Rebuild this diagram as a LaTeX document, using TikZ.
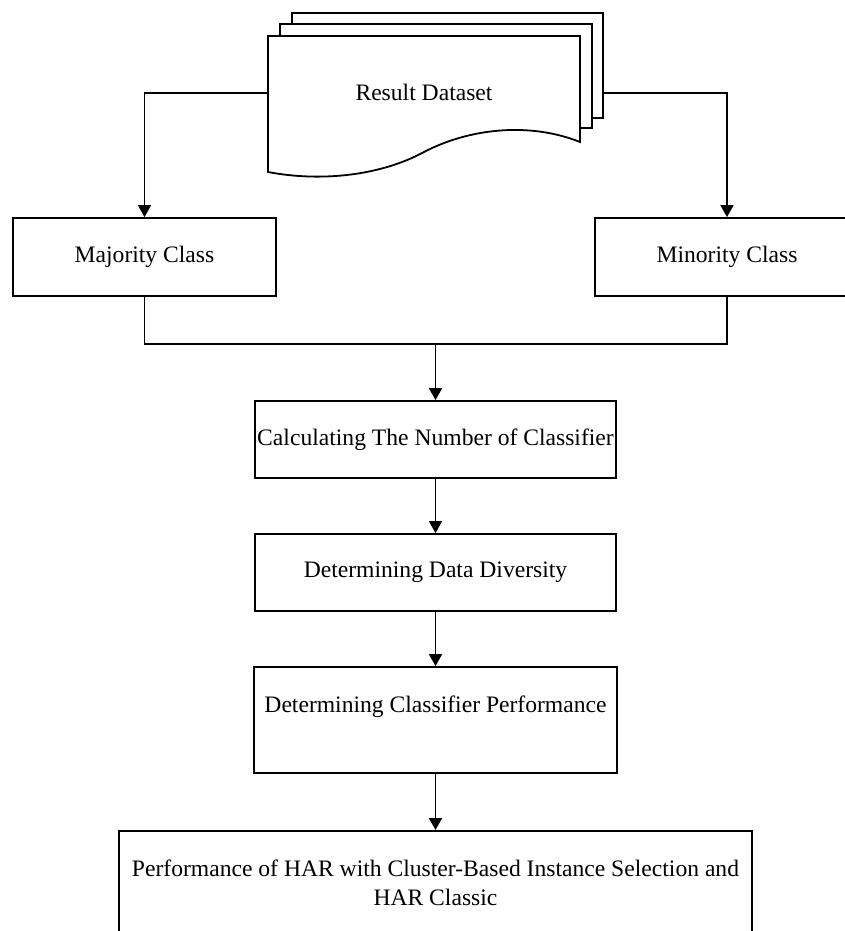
\documentclass[tikz,border=0pt]{standalone}
\usepackage{fontspec}
\setmainfont{Liberation Serif}
\usetikzlibrary{arrows.meta}
\begin{document}
\begin{tikzpicture}[x=1pt,y=-1pt,
  ln/.style={line width=1.8pt, line join=miter},
  arr/.style={ln,-{Triangle[width=13pt,length=12pt]}},
  box/.style={draw, ln, rectangle, inner sep=0pt, align=center, font=\fontsize{23.6}{29}\selectfont},
  txt/.style={inner sep=0pt, font=\fontsize{23.6}{29}\selectfont}]
\useasboundingbox (0,0) rectangle (845,931);
\clip (0,0) rectangle (845,931);
% stacked documents
\draw[ln, fill=white] (292,13) rectangle (603,118);
\draw[ln, fill=white] (280,24) rectangle (592,128);
\draw[ln, fill=white] (268,36) -- (580,36) -- (580,142) .. controls (530,122) and (470,128) .. (424,152) .. controls (380,176) and (320,182) .. (268,172) -- cycle;
\node[txt] (doc) at (424,92) {Result Dataset};
\coordinate (dL) at (268,93);
\coordinate (dR) at (603,93);
% boxes
\node[box, minimum width=263pt, minimum height=78pt] (maj) at (144.5,257) {Majority Class};
\node[box, minimum width=264pt, minimum height=78pt] (min) at (727,257) {Minority Class};
\node[box, minimum width=361pt, minimum height=77pt] (calc) at (435.5,439.5) {Calculating The Number of Classifier};
\node[box, minimum width=361pt, minimum height=77pt] (div) at (435.5,572.5) {Determining Data Diversity};
\node[box, minimum width=363pt, minimum height=106pt, text depth=31pt] (perf) at (435.5,720) {Determining Classifier Performance};
\node[box, minimum width=633pt, minimum height=104pt, anchor=north] (har) at (435.5,830) {Performance of HAR with Cluster-Based Instance Selection and\\HAR Classic};
% connectors
\draw[arr] (dL) -| (maj.north);
\draw[arr] (dR) -| (min.north);
\coordinate (m) at (435.5,344);
\draw[ln] (maj.south) |- (m) -| (min.south);
\draw[arr] (m) -- (calc.north);
\draw[arr] (calc.south) -- (div.north);
\draw[arr] (div.south) -- (perf.north);
\draw[arr] (perf.south) -- (har.north);
\end{tikzpicture}
\end{document}
